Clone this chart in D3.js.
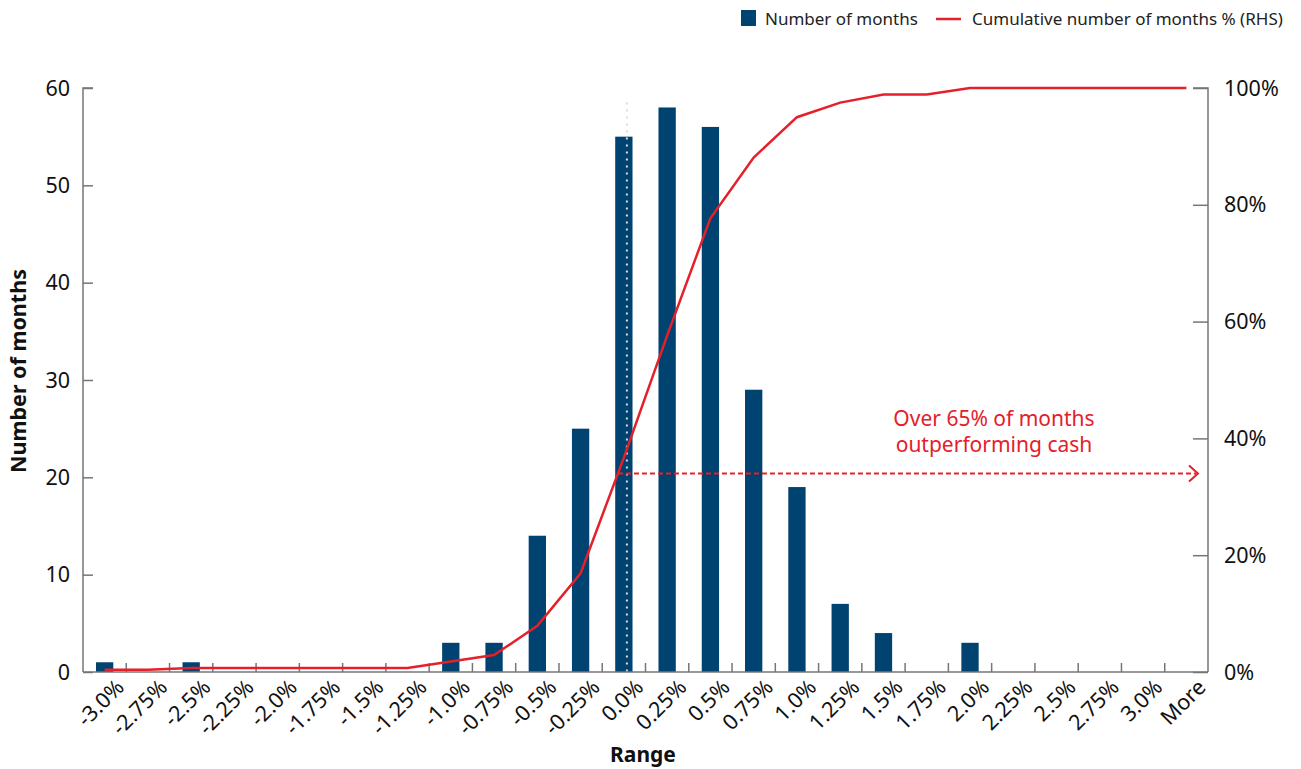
<!DOCTYPE html>
<html>
<head>
<meta charset="utf-8">
<script src="https://cdn.jsdelivr.net/npm/d3@7"></script>
<style>
  body { margin: 0; background: #fff; }
  svg { display: block; font-family: "Noto Sans", "Open Sans", sans-serif; }
</style>
</head>
<body>
<svg id="chart" width="1301" height="769"></svg>
<script>
// Return buckets (monthly excess return ranges) and counts
const categories = ["-3.0%", "-2.75%", "-2.5%", "-2.25%", "-2.0%", "-1.75%", "-1.5%", "-1.25%",
  "-1.0%", "-0.75%", "-0.5%", "-0.25%", "0.0%", "0.25%", "0.5%", "0.75%", "1.0%", "1.25%",
  "1.5%", "1.75%", "2.0%", "2.25%", "2.5%", "2.75%", "3.0%", "More"];
const monthCounts = [1, 0, 1, 0, 0, 0, 0, 0, 3, 3, 14, 25, 55, 58, 56, 29, 19, 7, 4, 0, 3, 0, 0, 0, 0, 0];
// Cumulative share of months, in percent
const cumulativePct = [0.4, 0.4, 0.7, 0.7, 0.7, 0.7, 0.7, 0.7, 1.8, 2.9, 7.9, 16.9, 36.7, 57.6,
  77.7, 88.1, 95.0, 97.5, 98.9, 98.9, 100, 100, 100, 100, 100, 100];
const leftTicks = [0, 10, 20, 30, 40, 50, 60];
const rightTicks = [0, 20, 40, 60, 80, 100];
const annotationLines = ["Over 65% of months", "outperforming cash"];
const annotationLevel = 34;      // % level on the RHS axis where the arrow runs
const markerCategory = "0.0%";

const svg = d3.select("#chart");
const margin = { left: 83, right: 93, top: 88, bottom: 97 };
const W = 1301, H = 769;
const x0 = margin.left, x1 = W - margin.right;
const y0 = H - margin.bottom, y1 = margin.top;

const navy = "#004270", red = "#e4202a", axisCol = "#767676", ink = "#111";
const tickFont = 21.5;

const x = d3.scaleBand().domain(categories).range([x0, x1]).paddingInner(0).paddingOuter(0);
const yL = d3.scaleLinear().domain([0, 60]).range([y0, y1]);
const yR = d3.scaleLinear().domain([0, 100]).range([y0, y1]);
const barW = x.bandwidth() * 0.4;
const cx = c => x(c) + x.bandwidth() / 2;

// Bars
svg.append("g").selectAll("rect")
  .data(categories.map((c, i) => ({ c, v: monthCounts[i] })).filter(d => d.v > 0))
  .join("rect")
  .attr("x", d => cx(d.c) - barW / 2)
  .attr("width", barW)
  .attr("y", d => yL(d.v))
  .attr("height", d => yL(0) - yL(d.v))
  .attr("fill", navy);

// Dotted marker at zero return
const mx = cx(markerCategory) + x.bandwidth() * 0.07;
svg.append("line")
  .attr("x1", mx).attr("x2", mx)
  .attr("y1", yL(58.5)).attr("y2", yL(0))
  .attr("stroke", "#dcdcdc").attr("stroke-width", 2)
  .attr("stroke-dasharray", "2,5");

// Left axis
const axL = svg.append("g").attr("transform", `translate(${x0},0)`)
  .call(d3.axisRight(yL).tickValues(leftTicks).tickSize(10).tickFormat(""));
axL.selectAll("path,line").attr("stroke", axisCol).attr("stroke-width", 1.5);
axL.select(".domain").attr("d", `M10,${y1}H0V${y0}`);
svg.append("g").selectAll("text").data(leftTicks).join("text")
  .attr("x", x0 - 13).attr("y", d => yL(d)).attr("dy", "0.35em")
  .attr("text-anchor", "end").attr("font-size", tickFont).attr("fill", ink)
  .text(d => d);

// Right axis
const axR = svg.append("g").attr("transform", `translate(${x1},0)`)
  .call(d3.axisLeft(yR).tickValues(rightTicks).tickSize(15).tickFormat(""));
axR.selectAll("path,line").attr("stroke", axisCol).attr("stroke-width", 1.5);
axR.select(".domain").attr("d", `M-15,${y1}H0V${y0}`);
svg.append("g").selectAll("text").data(rightTicks).join("text")
  .attr("x", x1 + 16).attr("y", d => yR(d)).attr("dy", "0.35em")
  .attr("text-anchor", "start").attr("font-size", tickFont).attr("fill", ink)
  .text(d => d + "%");

// Bottom axis: ticks between categories, pointing up into the plot
const boundaries = categories.slice(1).map(c => x(c));
const axB = svg.append("g");
axB.append("line").attr("x1", x0).attr("x2", x1).attr("y1", y0).attr("y2", y0)
  .attr("stroke", axisCol).attr("stroke-width", 1.5);
axB.selectAll("line.tk").data(boundaries).join("line").attr("class", "tk")
  .attr("x1", d => d).attr("x2", d => d).attr("y1", y0).attr("y2", y0 - 9)
  .attr("stroke", axisCol).attr("stroke-width", 1.5);
axB.selectAll("text").data(categories).join("text")
  .attr("transform", d => `translate(${cx(d) + 10},${y0 + 6}) rotate(-45)`)
  .attr("text-anchor", "end").attr("dy", "0.7em")
  .attr("font-size", tickFont).attr("fill", ink)
  .text(d => d);

// Cumulative line
const line = d3.line().x(d => cx(d.c)).y(d => yR(d.v));
svg.append("path")
  .datum(categories.map((c, i) => ({ c, v: cumulativePct[i] })))
  .attr("d", line).attr("fill", "none")
  .attr("stroke", red).attr("stroke-width", 2.5);

// Annotation arrow and text
const ay = yR(annotationLevel);
const idxA = categories.indexOf("-0.25%"), idxB = categories.indexOf(markerCategory);
const tA = (annotationLevel - cumulativePct[idxA]) / (cumulativePct[idxB] - cumulativePct[idxA]);
const ax0 = cx(categories[idxA]) + tA * (cx(categories[idxB]) - cx(categories[idxA]));
const ax1 = x1 - 10;
svg.append("line").attr("x1", ax0).attr("x2", ax1 - 2).attr("y1", ay).attr("y2", ay)
  .attr("stroke", red).attr("stroke-width", 2).attr("stroke-dasharray", "5,3");
svg.append("path")
  .attr("d", `M${ax1 - 9},${ay - 8}L${ax1},${ay}L${ax1 - 9},${ay + 8}`)
  .attr("fill", "none").attr("stroke", red).attr("stroke-width", 2);
svg.append("text")
  .attr("x", 994).attr("y", ay - 47)
  .attr("text-anchor", "middle").attr("font-size", 21).attr("fill", red)
  .selectAll("tspan").data(annotationLines).join("tspan")
  .attr("x", 994).attr("dy", (d, i) => i === 0 ? 0 : 26).text(d => d);

// Axis titles
svg.append("text")
  .attr("transform", `translate(26,${(y0 + y1) / 2 - 9}) rotate(-90)`)
  .attr("text-anchor", "middle").attr("font-size", 21.5).attr("font-weight", "bold").attr("fill", ink)
  .text("Number of months");
svg.append("text")
  .attr("x", 643).attr("y", 762)
  .attr("text-anchor", "middle").attr("font-size", 21).attr("font-weight", "bold").attr("fill", ink)
  .text("Range");

// Legend
const lg = svg.append("g");
lg.append("rect").attr("x", 741).attr("y", 10).attr("width", 15).attr("height", 16).attr("fill", navy);
lg.append("text").attr("x", 765).attr("y", 25).attr("font-size", 17).attr("fill", "#222")
  .text("Number of months");
lg.append("line").attr("x1", 936).attr("x2", 961).attr("y1", 19).attr("y2", 19)
  .attr("stroke", red).attr("stroke-width", 2.5);
lg.append("text").attr("x", 972).attr("y", 25).attr("font-size", 17).attr("fill", "#222")
  .text("Cumulative number of months % (RHS)");
</script>
</body>
</html>
